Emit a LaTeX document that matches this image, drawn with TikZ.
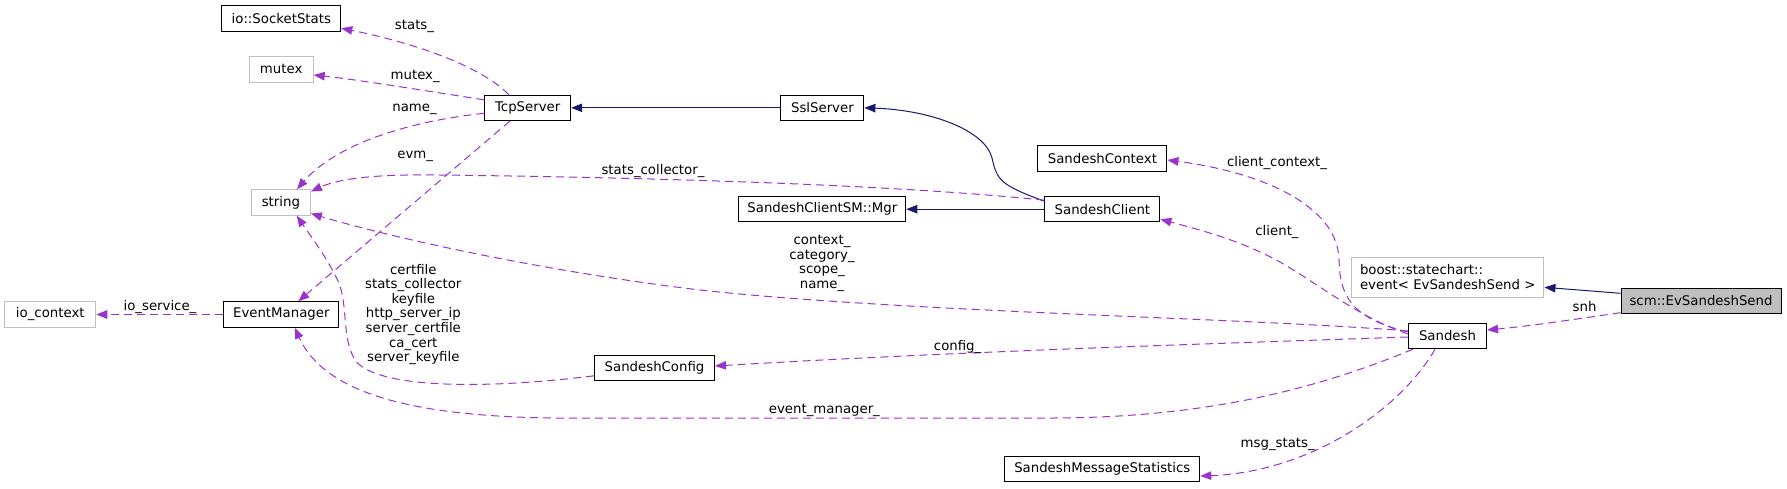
\documentclass[tikz,border=0pt]{standalone}
\usepackage{fontspec}
\setmainfont{DejaVu Sans}
\usepackage{xcolor}
\usetikzlibrary{positioning, arrows.meta}

\definecolor{usecol}{HTML}{9A32CD}
\definecolor{inhcol}{HTML}{191970}
\definecolor{undoc}{HTML}{BFBFBF}

\begin{document}
\begin{tikzpicture}[
  x=1pt, y=-1pt,
  >={Triangle[length=11pt, width=8.5pt]},
  every node/.style={font=\fontsize{13.3}{14.6}\selectfont}
]
\tikzset{
  cls/.style  ={draw=black, line width=1pt, minimum height=25.5pt,
                inner sep=2pt, align=center},
  ext/.style  ={cls, draw=undoc},
  cur/.style  ={cls, fill=undoc},
  inh/.style  ={->, draw=inhcol, line width=1pt},
  use/.style  ={->, draw=usecol, line width=1pt,
                dash pattern=on 8pt off 5pt},
  lab/.style  ={inner sep=0pt, align=center}
}
\useasboundingbox (0,0) rectangle (1787,488);

%% ----- Left column -----
\node[cls, minimum width=119pt] (sock)  at (281.3,18.7)  {io::SocketStats};
\node[ext, minimum width=64pt]  (mtx)   at (281.2,69.3)  {mutex};
\node[ext, minimum width=59pt]  (str)   at (280.9,202.5) {string};
\node[cls, minimum width=115pt] (evm)   at (281.3,314.5) {EventManager};
\node[ext, minimum width=91pt]  (ioctx) at (50.3,314.5)  {io\_context};

%% ----- Servers -----
\node[cls, minimum width=86pt]  (tcp)   at (527.7,107.8) {TcpServer};
\node[cls, minimum width=83pt]  (ssl)   at (822.4,107.8) {SslServer};
\node[cls, minimum width=167pt] (mgr)   at (822.3,209.2) {SandeshClientSM::Mgr};
\node[cls, minimum width=120pt] (cfg)   at (654.5,367.8) {SandeshConfig};

%% ----- Sandesh side -----
\node[cls, minimum width=129pt] (ctx)   at (1102.4,158.5) {SandeshContext};
\node[cls, minimum width=115pt] (cli)   at (1102.4,209.2) {SandeshClient};
\node[cls, minimum width=195pt] (mstat) at (1102.3,469)   {SandeshMessageStatistics};
\node[ext, minimum width=192.5pt, minimum height=40pt, align=left]
  (bev) at (1447.7,277.3) {boost::statechart::\\event< EvSandeshSend >};
\node[cls, minimum width=78pt]  (snd)   at (1447.5,336)  {Sandesh};
\node[cur, minimum width=160pt] (send)  at (1701,301)    {scm::EvSandeshSend};

%% ----- Inheritance -----
\draw[inh] (ssl) -- (tcp);
\draw[inh] (cli) -- (mgr);
\draw[inh] ([yshift=8pt]cli.west) .. controls (1000,185) and (997,180) ..
  (992,158) .. controls (985,130) and (930,110) .. (ssl.east);
\draw[inh] ([yshift=7.7pt]send.west) -- ([yshift=-10pt]bev.east);

%% ----- TcpServer members -----
\draw[use] ([xshift=-19pt]tcp.north) .. controls (480,65) and (410,42) ..
  ([yshift=-9.6pt]sock.east);
\draw[use] ([yshift=8pt]tcp.west) .. controls (420,90) and (360,80) ..
  ([yshift=-5.7pt]mtx.east);
\draw[use] ([yshift=-5.5pt]tcp.west) .. controls (420,120) and (340,140) ..
  ([xshift=16pt]str.north);
\draw[use] ([xshift=-17.7pt]tcp.south) -- ([xshift=17pt]evm.north);
\node[lab] (lstats) at (414.5,26.7) {stats\_};
\node[lab] (lmtx)   at (415.2,76)   {mutex\_};
\node[lab] (lname)  at (414.5,109)  {name\_};
\node[lab] (levm)   at (415.2,156)  {evm\_};

%% ----- EventManager, SandeshConfig, SandeshClient members -----
\draw[use] (evm.west) -- (ioctx.east);
\node[lab] (lios) at (160,306.7) {io\_service\_};

\draw[use] ([yshift=-8pt]cfg.west) .. controls (480,390) and (375,388) ..
  (355,360) .. controls (340,335) and (350,300) ..
  (335,275) .. controls (325,255) and (310,235) .. ([xshift=15.8pt]str.south);
\node[lab] (lcfgstr) at (413.3,314.5)
  {certfile\\stats\_collector\\keyfile\\http\_server\_ip\\server\_certfile\\ca\_cert\\server\_keyfile};

\draw[use] ([yshift=9pt]cli.west) .. controls (850,180) and (520,176) ..
  (440,175) .. controls (380,174) and (340,178) .. ([yshift=11pt]str.east);
\node[lab] (lcoll) at (653,170.7) {stats\_collector\_};

%% ----- Sandesh members -----
\draw[use] ([yshift=4pt]snd.west) .. controls (1350,318) and (1340,295) ..
  (1339,260) .. controls (1338,205) and (1260,172) .. ([yshift=-1.5pt]ctx.east);
\node[lab] (lcctx) at (1277,162.7) {client\_context\_};

\draw[use] ([yshift=2pt]snd.west) .. controls (1360,318) and (1320,285) ..
  (1280,262) .. controls (1240,240) and (1200,230) .. ([yshift=-10pt]cli.east);
\node[lab] (lcli) at (1277,231.7) {client\_};

\draw[use] ([yshift=5pt]snd.west) .. controls (1250,318) and (900,312) ..
  (700,290) .. controls (550,272) and (400,240) .. ([yshift=-11pt]str.east);
\node[lab] (lsndstr) at (822,263.4) {context\_\\category\_\\scope\_\\name\_};

\draw[use] ([yshift=-1pt]snd.west) .. controls (1200,344) and (950,352) ..
  ([yshift=1.8pt]cfg.east);
\node[lab] (lcfg) at (957.6,346.7) {config\_};

\draw[use] ([xshift=5pt]snd.south west) .. controls (1330,383) and (1220,418) ..
  (1050,418) -- (600,418) .. controls (450,420) and (330,405) ..
  ([xshift=13.4pt]evm.south);
\node[lab] (levmgr) at (824.4,410.7) {event\_manager\_};

\draw[use] ([xshift=-12.5pt]snd.south) .. controls (1400,410) and (1310,472) ..
  ([yshift=-7pt]mstat.east);
\node[lab] (lmsg) at (1277.7,444) {msg\_stats\_};

%% ----- EvSandeshSend -> Sandesh -----
\draw[use] ([yshift=-11.7pt]send.west) .. controls (1570,320) and (1530,326) ..
  ([yshift=6pt]snd.east);
\node[lab] (lsnh) at (1584.6,306.7) {snh};

\end{tikzpicture}
\end{document}
